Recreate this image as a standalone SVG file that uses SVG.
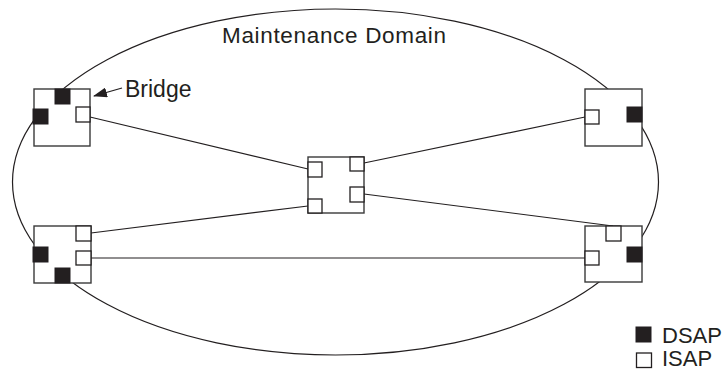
<svg xmlns="http://www.w3.org/2000/svg" width="728" height="371" viewBox="0 0 728 371">
<style>
.box{fill:#fff;stroke:#3a3a3a;stroke-width:1.4}
.dsap{fill:#231f20;stroke:#231f20;stroke-width:1}
.isap{fill:#fff;stroke:#231f20;stroke-width:1.3}
.ln{stroke:#231f20;stroke-width:1.2;fill:none}
.t{font-family:"Liberation Sans",Arial,sans-serif;fill:#231f20}
</style>
<defs>
<marker id="ah" markerWidth="14" markerHeight="10" refX="13" refY="5" orient="auto" markerUnits="userSpaceOnUse">
<path d="M0,0 L14,5 L0,10 Z" fill="#231f20"/>
</marker>
</defs>
<g id="domain">
<ellipse cx="335.5" cy="182" rx="323" ry="173" class="ln"/>
<text class="t" x="222" y="43" font-size="22.5" textLength="224" lengthAdjust="spacing">Maintenance Domain</text>
</g>
<g id="connectors">
<line class="ln" x1="90" y1="117" x2="308" y2="169"/>
<line class="ln" x1="364" y1="163" x2="585" y2="117"/>
<line class="ln" x1="364" y1="194" x2="613" y2="226"/>
<line class="ln" x1="91" y1="233" x2="308" y2="206"/>
<line class="ln" x1="91" y1="258" x2="585" y2="258"/>
<line class="ln" x1="122" y1="88" x2="94" y2="96" marker-end="url(#ah)"/>
</g>
<g id="bridge-tl">
<rect class="box" x="34" y="89" width="56" height="57"/>
<rect class="dsap" x="55" y="89" width="15" height="15"/>
<rect class="dsap" x="33" y="109" width="15" height="15"/>
<rect class="isap" x="76" y="107" width="14" height="15"/>
</g>
<g id="bridge-label">
<text class="t" x="125" y="97" font-size="23">Bridge</text>
</g>
<g id="bridge-tr">
<rect class="box" x="585" y="89" width="57" height="57"/>
<rect class="isap" x="585" y="110" width="14" height="14"/>
<rect class="dsap" x="627" y="107" width="15" height="15"/>
</g>
<g id="bridge-center">
<rect class="box" x="308" y="157" width="56" height="56"/>
<rect class="isap" x="308" y="162" width="14" height="15"/>
<rect class="isap" x="350" y="157" width="14" height="14"/>
<rect class="isap" x="350" y="187" width="14" height="15"/>
<rect class="isap" x="308" y="199" width="14" height="14"/>
</g>
<g id="bridge-bl">
<rect class="box" x="34" y="226" width="57" height="57"/>
<rect class="isap" x="76" y="226" width="15" height="15"/>
<rect class="isap" x="76" y="251" width="15" height="14"/>
<rect class="dsap" x="33" y="247" width="15" height="15"/>
<rect class="dsap" x="55" y="268" width="15" height="15"/>
</g>
<g id="bridge-br">
<rect class="box" x="585" y="226" width="57" height="56"/>
<rect class="isap" x="606" y="226" width="15" height="15"/>
<rect class="isap" x="585" y="251" width="14" height="14"/>
<rect class="dsap" x="627" y="247" width="15" height="15"/>
</g>
<g id="legend">
<rect class="dsap" x="636" y="327" width="15" height="15"/>
<text class="t" x="662" y="343" font-size="22">DSAP</text>
<rect class="isap" x="636.5" y="353" width="15" height="14.5"/>
<text class="t" x="662" y="366" font-size="22">ISAP</text>
</g>
</svg>
